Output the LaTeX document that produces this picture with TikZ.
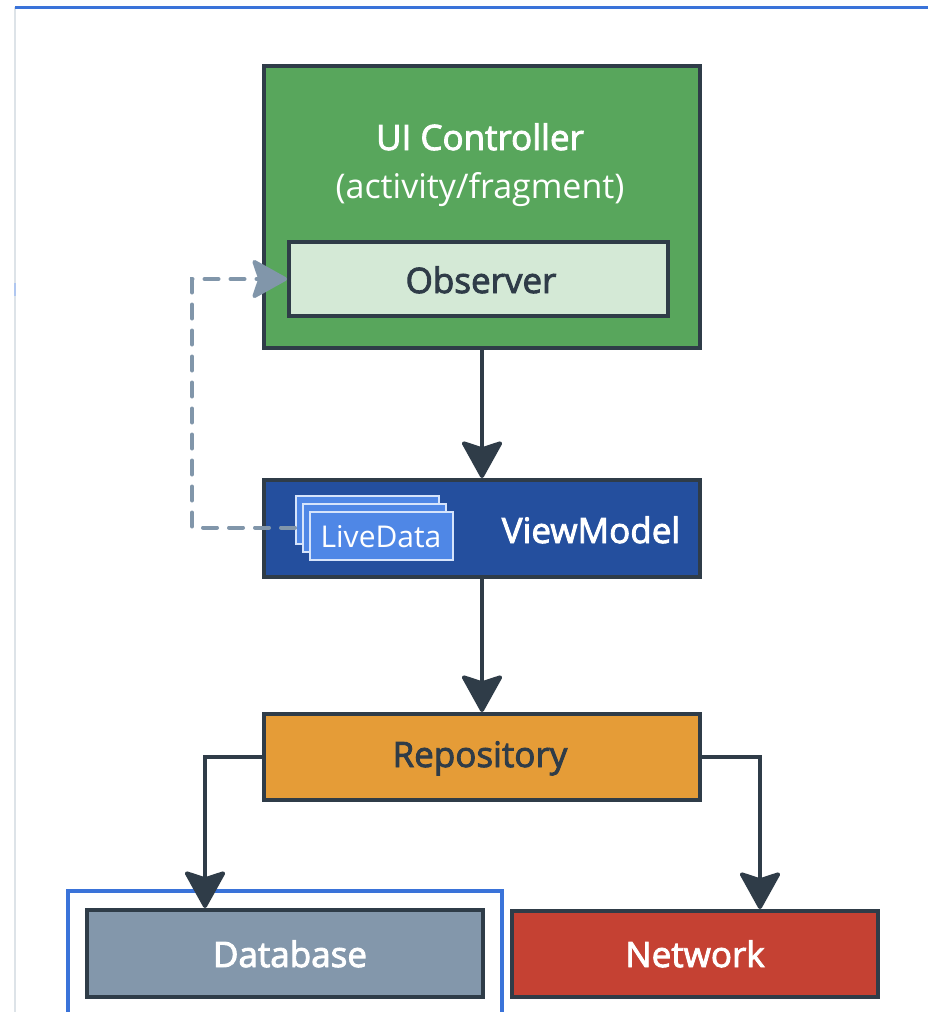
\documentclass[tikz,border=0pt]{standalone}
\usepackage{fontspec}
\setmainfont{Open Sans}
\usetikzlibrary{arrows.meta}
% semibold look: fill and stroke the glyph outlines
\newcommand\semitext[1]{\special{pdf:literal direct 2 Tr 0.9 w}#1\special{pdf:literal direct 0 Tr}}
\definecolor{ink}{HTML}{2F3C48}
\definecolor{ctrlgreen}{HTML}{58A65C}
\definecolor{obsgreen}{HTML}{D4E9D6}
\definecolor{vmblue}{HTML}{244F9E}
\definecolor{ldblue}{HTML}{4F87E6}
\definecolor{ldedge}{HTML}{D6E4FB}
\definecolor{repoorange}{HTML}{E59C37}
\definecolor{dbgray}{HTML}{8397AB}
\definecolor{netred}{HTML}{C54133}
\definecolor{dashgray}{HTML}{8196AA}
\definecolor{frameblue}{HTML}{3A73D9}
\definecolor{edgegray}{HTML}{DDE3E8}
\tikzset{
  box/.style={draw=ink, line width=4pt, inner sep=0pt, minimum width=#1},
  boxh/.style={minimum height=#1},
  lbl/.style={anchor=base, inner sep=0pt, font=\fontsize{35}{38}\selectfont},
  lblreg/.style={anchor=base, inner sep=0pt, font=\fontsize{34}{37}\selectfont},
  stackcard/.style={draw=ldedge, line width=2pt, fill=ldblue, inner sep=0pt,
    minimum width=143pt, minimum height=48pt},
  conn/.style={draw=ink, line width=4pt,
    -{Stealth[length=40pt, width=44pt, inset=7pt, round]}},
  dashconn/.style={draw=dashgray, line width=4pt, line cap=round,
    dash pattern=on 14pt off 12pt,
    -{Stealth[length=38pt, width=42pt, inset=7pt, round]}},
}
\begin{document}
\begin{tikzpicture}[x=1pt, y=-1pt]
  \useasboundingbox (0,0) rectangle (928,1012);
  \fill[white] (0,0) rectangle (928,1012);

  % page edges
  \draw[edgegray, line width=2pt] (15,7) -- (15,1012);
  \draw[frameblue!40, line width=2pt] (15,283) -- (15,296);
  \draw[frameblue, line width=3pt] (15,7) -- (928,7);

  % UI controller with its observer
  \node[box=436pt, boxh=282pt, fill=ctrlgreen] (ui) at (482,207) {};
  \node[lbl, text=white] (uiT) at (480,150) {\semitext{UI Controller}};
  \node[lblreg, text=white] (uiS) at (480,198) {(activity/fragment)};
  \node[box=379pt, boxh=74pt, fill=obsgreen] (obs) at (478.5,279) {};
  \node[lbl, text=ink] (obsT) at (481,293) {\semitext{Observer}};

  % ViewModel holding LiveData
  \node[box=436pt, boxh=97pt, fill=vmblue] (vm) at (482,528.5) {};
  \node[lbl, text=white] (vmT) at (591,543) {\semitext{ViewModel}};
  \node[stackcard] (ldback) at (367,520) {};
  \node[stackcard] (ldmid) at (374.5,527.5) {};
  \node[stackcard] (ld) at (381.5,536) {};
  \node[anchor=base, inner sep=0pt, text=white, font=\fontsize{30}{33}\selectfont]
    (ldT) at (381,547) {LiveData};

  % Repository
  \node[box=436pt, boxh=86pt, fill=repoorange] (repo) at (482,757) {};
  \node[lbl, text=ink] (repoT) at (480,767) {\semitext{Repository}};

  % highlight frame round the database
  \draw[frameblue, line width=3.5pt] (68,1014) -- (68,891) -- (502,891) -- (502,1014);

  % data sources
  \node[box=396pt, boxh=87pt, fill=dbgray] (db) at (285,953.5) {};
  \node[lbl, text=white] (dbT) at (290,967) {\semitext{Database}};
  \node[box=366pt, boxh=86pt, fill=netred] (net) at (695,954) {};
  \node[lbl, text=white] (netT) at (695,967) {\semitext{Network}};

  % connectors
  \draw[conn] (ui.south) -- (vm.north);
  \draw[conn] (vm.south) -- (repo.north);
  \draw[conn] (repo.west) -| ([xshift=-80pt]db.north);
  \draw[conn] (repo.east) -| ([xshift=65pt]net.north);
  \draw[dashconn] ([xshift=-7pt]ldmid.west) -- ++(-103,0) |- (obs.west);
\end{tikzpicture}
\end{document}
